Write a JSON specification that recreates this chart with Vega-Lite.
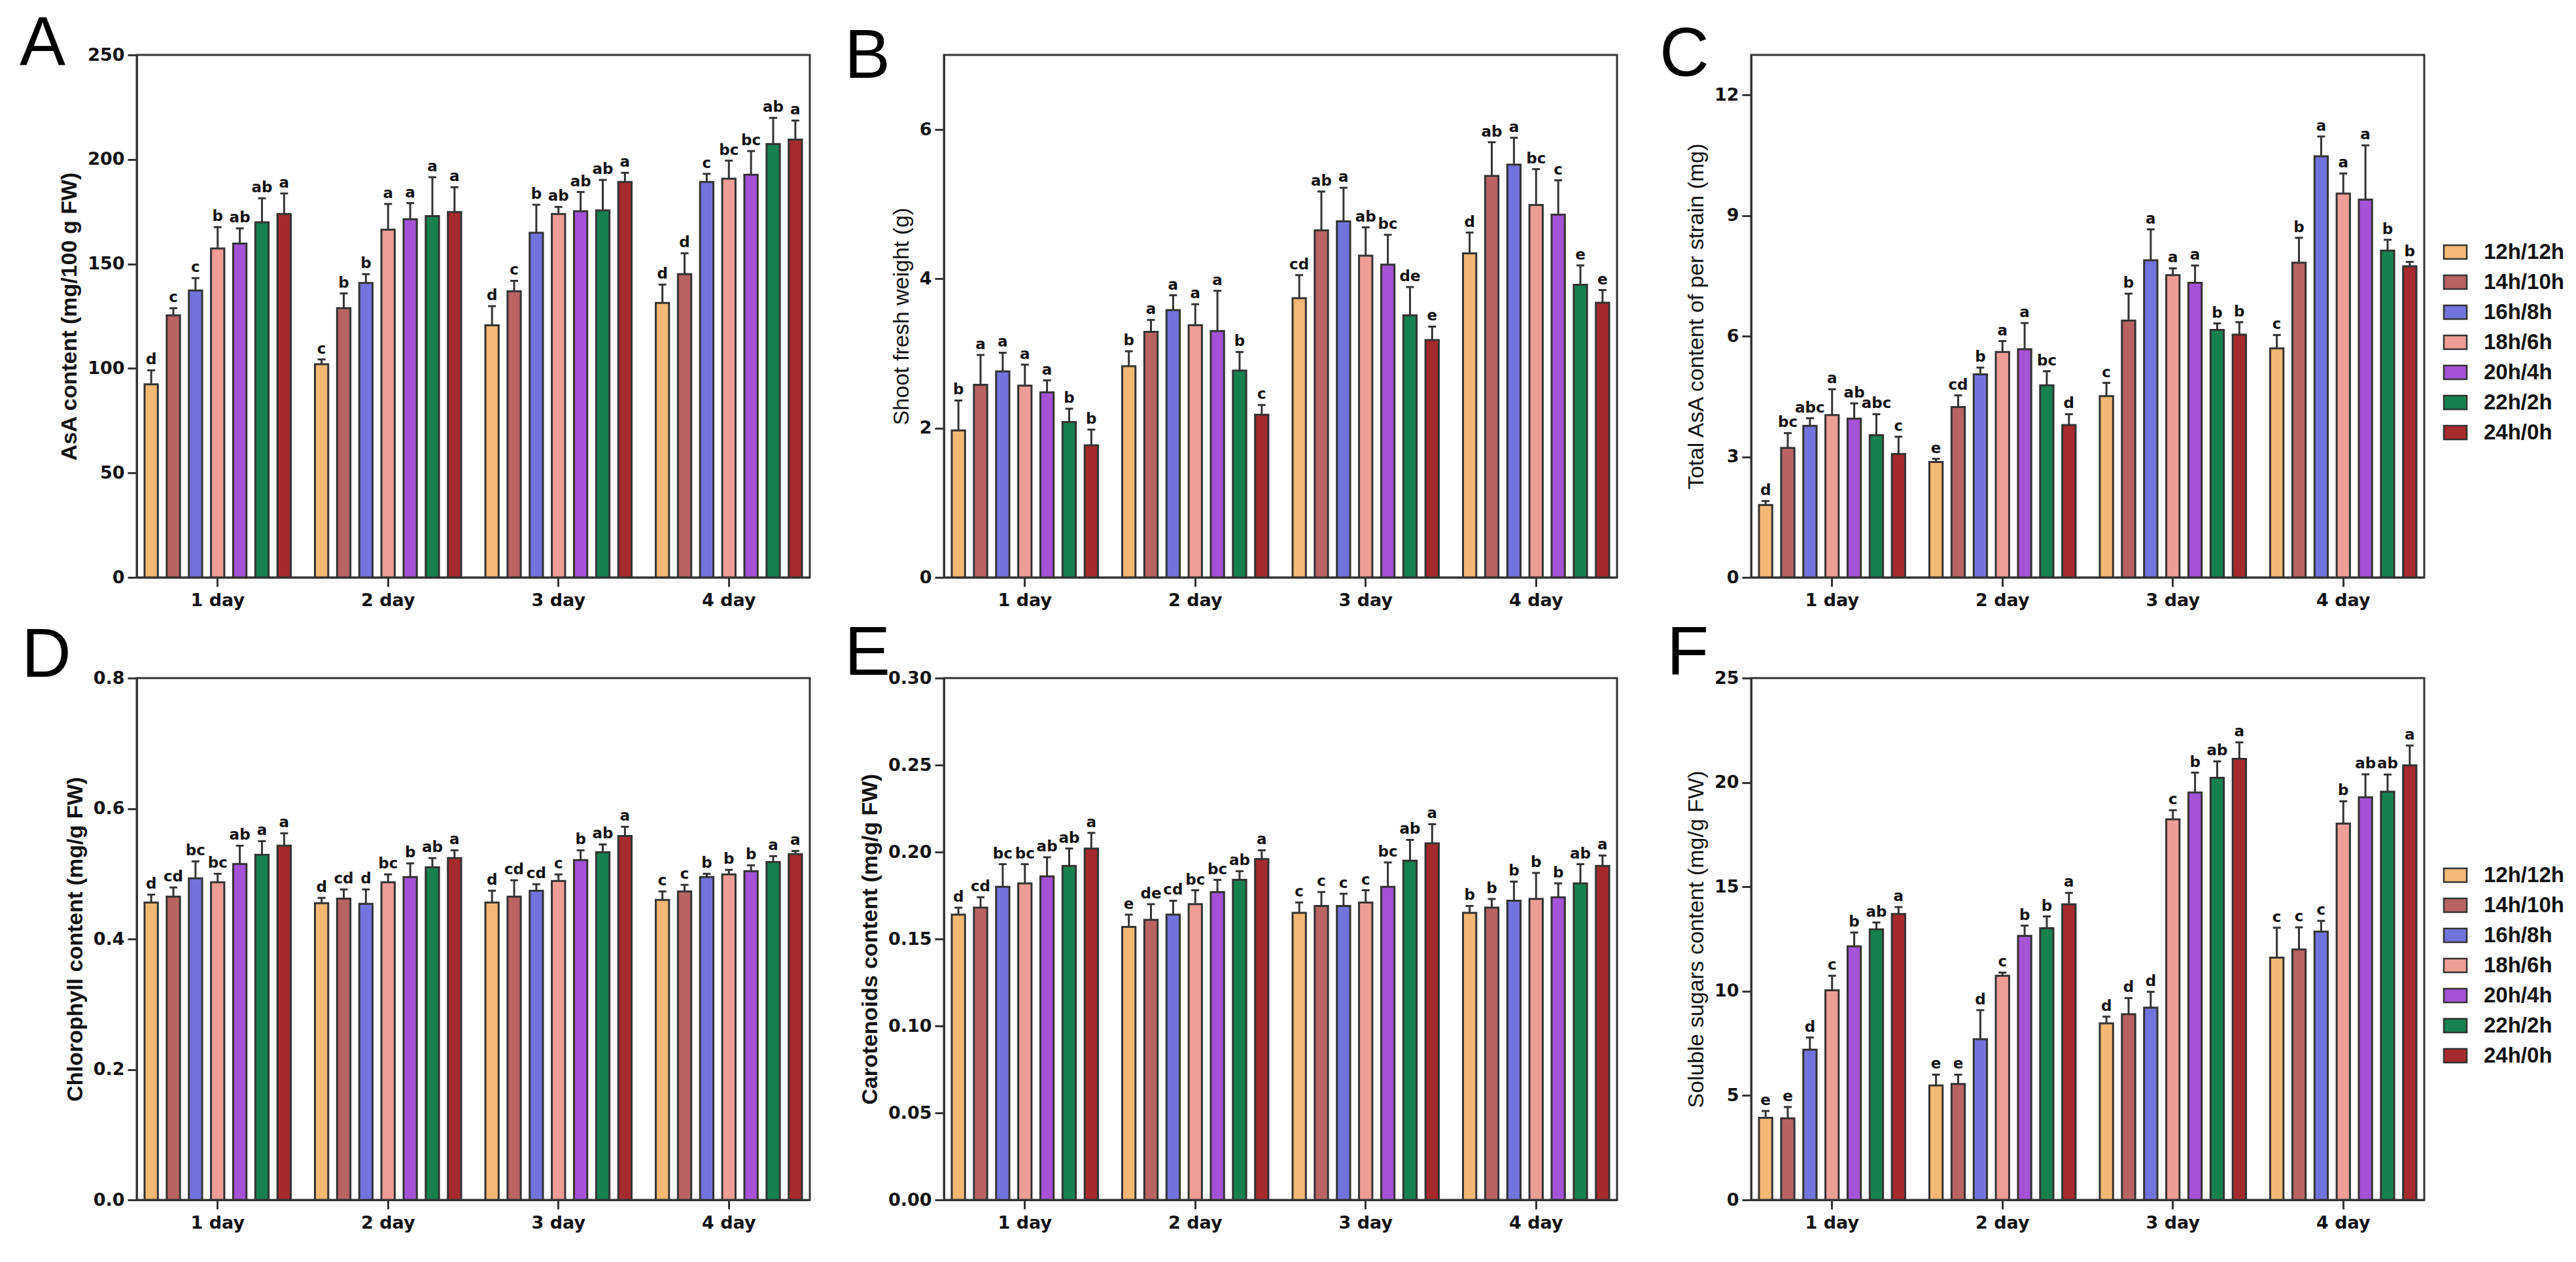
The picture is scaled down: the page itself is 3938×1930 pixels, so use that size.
{
"$schema":"https://vega.github.io/schema/vega-lite/v6.json",
"background":"white",
"padding":{"left":28,"top":13,"right":10,"bottom":10},
"config":{
 "view":{"stroke":"#333333","strokeWidth":3},
 "axis":{"domainColor":"#333333","domainWidth":3,"tickColor":"#333333","tickWidth":3,"tickSize":14,"labelFont":"DejaVu Sans","labelFontWeight":"bold","labelFontSize":27,"labelColor":"#111111","labelPadding":5,"titleFont":"Liberation Sans","titleFontSize":34,"titleColor":"#111111","titleFontWeight":"normal","grid":false},
 "axisX":{"labelAngle":0,"labelPadding":8},
 "axisY":{"titlePadding":10},
 "title":{"anchor":"start","frame":"group","offset":0,"baseline":"alphabetic","font":"Liberation Sans","fontSize":105,"fontWeight":"normal","color":"#000000"}
},
"datasets":{
"A":[
{"d":"1 day","p":"12h/12h","v":92.4,"u":99.1,"l":"d"},{"d":"1 day","p":"14h/10h","v":125.4,"u":128.8,"l":"c"},{"d":"1 day","p":"16h/8h","v":137.3,"u":143.2,"l":"c"},{"d":"1 day","p":"18h/6h","v":157.4,"u":167.6,"l":"b"},{"d":"1 day","p":"20h/4h","v":159.7,"u":167.0,"l":"ab"},{"d":"1 day","p":"22h/2h","v":169.9,"u":181.4,"l":"ab"},{"d":"1 day","p":"24h/0h","v":173.9,"u":183.7,"l":"a"},
{"d":"2 day","p":"12h/12h","v":102.0,"u":104.3,"l":"c"},{"d":"2 day","p":"14h/10h","v":128.8,"u":135.9,"l":"b"},{"d":"2 day","p":"16h/8h","v":140.9,"u":145.1,"l":"b"},{"d":"2 day","p":"18h/6h","v":166.4,"u":178.7,"l":"a"},{"d":"2 day","p":"20h/4h","v":171.4,"u":179.1,"l":"a"},{"d":"2 day","p":"22h/2h","v":172.9,"u":191.5,"l":"a"},{"d":"2 day","p":"24h/0h","v":174.8,"u":186.7,"l":"a"},
{"d":"3 day","p":"12h/12h","v":120.6,"u":129.8,"l":"d"},{"d":"3 day","p":"14h/10h","v":136.9,"u":141.9,"l":"c"},{"d":"3 day","p":"16h/8h","v":164.9,"u":178.3,"l":"b"},{"d":"3 day","p":"18h/6h","v":173.9,"u":177.3,"l":"ab"},{"d":"3 day","p":"20h/4h","v":175.2,"u":184.4,"l":"ab"},{"d":"3 day","p":"22h/2h","v":175.6,"u":190.2,"l":"ab"},{"d":"3 day","p":"24h/0h","v":189.2,"u":193.6,"l":"a"},
{"d":"4 day","p":"12h/12h","v":131.3,"u":140.1,"l":"d"},{"d":"4 day","p":"14h/10h","v":145.1,"u":155.1,"l":"d"},{"d":"4 day","p":"16h/8h","v":189.2,"u":193.1,"l":"c"},{"d":"4 day","p":"18h/6h","v":190.8,"u":199.4,"l":"bc"},{"d":"4 day","p":"20h/4h","v":192.7,"u":204.0,"l":"bc"},{"d":"4 day","p":"22h/2h","v":207.4,"u":219.9,"l":"ab"},{"d":"4 day","p":"24h/0h","v":209.5,"u":218.6,"l":"a"}
],
"B":[
{"d":"1 day","p":"12h/12h","v":1.97,"u":2.37,"l":"b"},{"d":"1 day","p":"14h/10h","v":2.58,"u":2.98,"l":"a"},{"d":"1 day","p":"16h/8h","v":2.76,"u":3.01,"l":"a"},{"d":"1 day","p":"18h/6h","v":2.57,"u":2.85,"l":"a"},{"d":"1 day","p":"20h/4h","v":2.48,"u":2.64,"l":"a"},{"d":"1 day","p":"22h/2h","v":2.08,"u":2.26,"l":"b"},{"d":"1 day","p":"24h/0h","v":1.77,"u":1.98,"l":"b"},
{"d":"2 day","p":"12h/12h","v":2.83,"u":3.03,"l":"b"},{"d":"2 day","p":"14h/10h","v":3.29,"u":3.45,"l":"a"},{"d":"2 day","p":"16h/8h","v":3.58,"u":3.78,"l":"a"},{"d":"2 day","p":"18h/6h","v":3.38,"u":3.66,"l":"a"},{"d":"2 day","p":"20h/4h","v":3.30,"u":3.84,"l":"a"},{"d":"2 day","p":"22h/2h","v":2.77,"u":3.02,"l":"b"},{"d":"2 day","p":"24h/0h","v":2.18,"u":2.31,"l":"c"},
{"d":"3 day","p":"12h/12h","v":3.74,"u":4.05,"l":"cd"},{"d":"3 day","p":"14h/10h","v":4.65,"u":5.17,"l":"ab"},{"d":"3 day","p":"16h/8h","v":4.77,"u":5.22,"l":"a"},{"d":"3 day","p":"18h/6h","v":4.31,"u":4.69,"l":"ab"},{"d":"3 day","p":"20h/4h","v":4.19,"u":4.59,"l":"bc"},{"d":"3 day","p":"22h/2h","v":3.51,"u":3.89,"l":"de"},{"d":"3 day","p":"24h/0h","v":3.18,"u":3.36,"l":"e"},
{"d":"4 day","p":"12h/12h","v":4.34,"u":4.62,"l":"d"},{"d":"4 day","p":"14h/10h","v":5.38,"u":5.83,"l":"ab"},{"d":"4 day","p":"16h/8h","v":5.53,"u":5.89,"l":"a"},{"d":"4 day","p":"18h/6h","v":4.99,"u":5.47,"l":"bc"},{"d":"4 day","p":"20h/4h","v":4.86,"u":5.32,"l":"c"},{"d":"4 day","p":"22h/2h","v":3.92,"u":4.18,"l":"e"},{"d":"4 day","p":"24h/0h","v":3.68,"u":3.85,"l":"e"}
],
"C":[
{"d":"1 day","p":"12h/12h","v":1.80,"u":1.90,"l":"d"},{"d":"1 day","p":"14h/10h","v":3.22,"u":3.59,"l":"bc"},{"d":"1 day","p":"16h/8h","v":3.77,"u":3.96,"l":"abc"},{"d":"1 day","p":"18h/6h","v":4.04,"u":4.68,"l":"a"},{"d":"1 day","p":"20h/4h","v":3.95,"u":4.33,"l":"ab"},{"d":"1 day","p":"22h/2h","v":3.54,"u":4.06,"l":"abc"},{"d":"1 day","p":"24h/0h","v":3.07,"u":3.50,"l":"c"},
{"d":"2 day","p":"12h/12h","v":2.87,"u":2.95,"l":"e"},{"d":"2 day","p":"14h/10h","v":4.24,"u":4.53,"l":"cd"},{"d":"2 day","p":"16h/8h","v":5.05,"u":5.22,"l":"b"},{"d":"2 day","p":"18h/6h","v":5.61,"u":5.88,"l":"a"},{"d":"2 day","p":"20h/4h","v":5.68,"u":6.33,"l":"a"},{"d":"2 day","p":"22h/2h","v":4.78,"u":5.13,"l":"bc"},{"d":"2 day","p":"24h/0h","v":3.79,"u":4.06,"l":"d"},
{"d":"3 day","p":"12h/12h","v":4.51,"u":4.84,"l":"c"},{"d":"3 day","p":"14h/10h","v":6.39,"u":7.06,"l":"b"},{"d":"3 day","p":"16h/8h","v":7.89,"u":8.66,"l":"a"},{"d":"3 day","p":"18h/6h","v":7.52,"u":7.69,"l":"a"},{"d":"3 day","p":"20h/4h","v":7.33,"u":7.76,"l":"a"},{"d":"3 day","p":"22h/2h","v":6.16,"u":6.32,"l":"b"},{"d":"3 day","p":"24h/0h","v":6.04,"u":6.35,"l":"b"},
{"d":"4 day","p":"12h/12h","v":5.70,"u":6.03,"l":"c"},{"d":"4 day","p":"14h/10h","v":7.83,"u":8.45,"l":"b"},{"d":"4 day","p":"16h/8h","v":10.48,"u":10.97,"l":"a"},{"d":"4 day","p":"18h/6h","v":9.55,"u":10.05,"l":"a"},{"d":"4 day","p":"20h/4h","v":9.40,"u":10.75,"l":"a"},{"d":"4 day","p":"22h/2h","v":8.13,"u":8.40,"l":"b"},{"d":"4 day","p":"24h/0h","v":7.74,"u":7.85,"l":"b"}
],
"D":[
{"d":"1 day","p":"12h/12h","v":0.456,"u":0.468,"l":"d"},{"d":"1 day","p":"14h/10h","v":0.465,"u":0.479,"l":"cd"},{"d":"1 day","p":"16h/8h","v":0.493,"u":0.519,"l":"bc"},{"d":"1 day","p":"18h/6h","v":0.487,"u":0.500,"l":"bc"},{"d":"1 day","p":"20h/4h","v":0.515,"u":0.543,"l":"ab"},{"d":"1 day","p":"22h/2h","v":0.529,"u":0.550,"l":"a"},{"d":"1 day","p":"24h/0h","v":0.543,"u":0.562,"l":"a"},
{"d":"2 day","p":"12h/12h","v":0.455,"u":0.463,"l":"d"},{"d":"2 day","p":"14h/10h","v":0.462,"u":0.476,"l":"cd"},{"d":"2 day","p":"16h/8h","v":0.454,"u":0.476,"l":"d"},{"d":"2 day","p":"18h/6h","v":0.487,"u":0.499,"l":"bc"},{"d":"2 day","p":"20h/4h","v":0.495,"u":0.516,"l":"b"},{"d":"2 day","p":"22h/2h","v":0.510,"u":0.524,"l":"ab"},{"d":"2 day","p":"24h/0h","v":0.524,"u":0.536,"l":"a"},
{"d":"3 day","p":"12h/12h","v":0.456,"u":0.474,"l":"d"},{"d":"3 day","p":"14h/10h","v":0.465,"u":0.490,"l":"cd"},{"d":"3 day","p":"16h/8h","v":0.474,"u":0.484,"l":"cd"},{"d":"3 day","p":"18h/6h","v":0.489,"u":0.499,"l":"c"},{"d":"3 day","p":"20h/4h","v":0.521,"u":0.536,"l":"b"},{"d":"3 day","p":"22h/2h","v":0.533,"u":0.545,"l":"ab"},{"d":"3 day","p":"24h/0h","v":0.558,"u":0.572,"l":"a"},
{"d":"4 day","p":"12h/12h","v":0.460,"u":0.473,"l":"c"},{"d":"4 day","p":"14h/10h","v":0.473,"u":0.483,"l":"c"},{"d":"4 day","p":"16h/8h","v":0.495,"u":0.500,"l":"b"},{"d":"4 day","p":"18h/6h","v":0.499,"u":0.506,"l":"b"},{"d":"4 day","p":"20h/4h","v":0.504,"u":0.513,"l":"b"},{"d":"4 day","p":"22h/2h","v":0.518,"u":0.527,"l":"a"},{"d":"4 day","p":"24h/0h","v":0.530,"u":0.535,"l":"a"}
],
"E":[
{"d":"1 day","p":"12h/12h","v":0.164,"u":0.168,"l":"d"},{"d":"1 day","p":"14h/10h","v":0.168,"u":0.174,"l":"cd"},{"d":"1 day","p":"16h/8h","v":0.180,"u":0.193,"l":"bc"},{"d":"1 day","p":"18h/6h","v":0.182,"u":0.193,"l":"bc"},{"d":"1 day","p":"20h/4h","v":0.186,"u":0.197,"l":"ab"},{"d":"1 day","p":"22h/2h","v":0.192,"u":0.202,"l":"ab"},{"d":"1 day","p":"24h/0h","v":0.202,"u":0.211,"l":"a"},
{"d":"2 day","p":"12h/12h","v":0.157,"u":0.164,"l":"e"},{"d":"2 day","p":"14h/10h","v":0.161,"u":0.170,"l":"de"},{"d":"2 day","p":"16h/8h","v":0.164,"u":0.172,"l":"cd"},{"d":"2 day","p":"18h/6h","v":0.170,"u":0.178,"l":"bc"},{"d":"2 day","p":"20h/4h","v":0.177,"u":0.184,"l":"bc"},{"d":"2 day","p":"22h/2h","v":0.184,"u":0.189,"l":"ab"},{"d":"2 day","p":"24h/0h","v":0.196,"u":0.201,"l":"a"},
{"d":"3 day","p":"12h/12h","v":0.165,"u":0.171,"l":"c"},{"d":"3 day","p":"14h/10h","v":0.169,"u":0.177,"l":"c"},{"d":"3 day","p":"16h/8h","v":0.169,"u":0.176,"l":"c"},{"d":"3 day","p":"18h/6h","v":0.171,"u":0.178,"l":"c"},{"d":"3 day","p":"20h/4h","v":0.180,"u":0.194,"l":"bc"},{"d":"3 day","p":"22h/2h","v":0.195,"u":0.207,"l":"ab"},{"d":"3 day","p":"24h/0h","v":0.205,"u":0.216,"l":"a"},
{"d":"4 day","p":"12h/12h","v":0.165,"u":0.169,"l":"b"},{"d":"4 day","p":"14h/10h","v":0.168,"u":0.173,"l":"b"},{"d":"4 day","p":"16h/8h","v":0.172,"u":0.183,"l":"b"},{"d":"4 day","p":"18h/6h","v":0.173,"u":0.188,"l":"b"},{"d":"4 day","p":"20h/4h","v":0.174,"u":0.182,"l":"b"},{"d":"4 day","p":"22h/2h","v":0.182,"u":0.193,"l":"ab"},{"d":"4 day","p":"24h/0h","v":0.192,"u":0.198,"l":"a"}
],
"F":[
{"d":"1 day","p":"12h/12h","v":3.93,"u":4.26,"l":"e"},{"d":"1 day","p":"14h/10h","v":3.91,"u":4.45,"l":"e"},{"d":"1 day","p":"16h/8h","v":7.20,"u":7.78,"l":"d"},{"d":"1 day","p":"18h/6h","v":10.04,"u":10.74,"l":"c"},{"d":"1 day","p":"20h/4h","v":12.15,"u":12.81,"l":"b"},{"d":"1 day","p":"22h/2h","v":12.96,"u":13.29,"l":"ab"},{"d":"1 day","p":"24h/0h","v":13.70,"u":14.03,"l":"a"},
{"d":"2 day","p":"12h/12h","v":5.48,"u":6.00,"l":"e"},{"d":"2 day","p":"14h/10h","v":5.55,"u":6.00,"l":"e"},{"d":"2 day","p":"16h/8h","v":7.70,"u":9.09,"l":"d"},{"d":"2 day","p":"18h/6h","v":10.74,"u":10.89,"l":"c"},{"d":"2 day","p":"20h/4h","v":12.65,"u":13.14,"l":"b"},{"d":"2 day","p":"22h/2h","v":13.02,"u":13.58,"l":"b"},{"d":"2 day","p":"24h/0h","v":14.16,"u":14.71,"l":"a"},
{"d":"3 day","p":"12h/12h","v":8.46,"u":8.78,"l":"d"},{"d":"3 day","p":"14h/10h","v":8.90,"u":9.67,"l":"d"},{"d":"3 day","p":"16h/8h","v":9.21,"u":9.97,"l":"d"},{"d":"3 day","p":"18h/6h","v":18.23,"u":18.67,"l":"c"},{"d":"3 day","p":"20h/4h","v":19.52,"u":20.47,"l":"b"},{"d":"3 day","p":"22h/2h","v":20.22,"u":21.01,"l":"ab"},{"d":"3 day","p":"24h/0h","v":21.13,"u":21.92,"l":"a"},
{"d":"4 day","p":"12h/12h","v":11.61,"u":13.04,"l":"c"},{"d":"4 day","p":"14h/10h","v":12.00,"u":13.06,"l":"c"},{"d":"4 day","p":"16h/8h","v":12.85,"u":13.37,"l":"c"},{"d":"4 day","p":"18h/6h","v":18.03,"u":19.10,"l":"b"},{"d":"4 day","p":"20h/4h","v":19.29,"u":20.39,"l":"ab"},{"d":"4 day","p":"22h/2h","v":19.56,"u":20.38,"l":"ab"},{"d":"4 day","p":"24h/0h","v":20.82,"u":21.77,"l":"a"}
]
},
"columns":3,
"spacing":{"row":154,"column":205},
"bounds":"flush",
"resolve":{"legend":{"color":"independent"}},
"concat":[
 {"width":1029,"height":799,"title":{"text":"A","dx":-179,"dy":55},"data":{"name":"A"},
  "encoding":{"x":{"field":"d","type":"nominal","title":null,"scale":{"paddingInner":0.142,"paddingOuter":0.046}},"xOffset":{"field":"p","type":"nominal","scale":{"paddingInner":0.4,"paddingOuter":0}}},
  "layer":[
   {"mark":{"type":"bar","stroke":"#333333","strokeWidth":3},"encoding":{"y":{"field":"v","type":"quantitative","scale":{"domain":[0,250],"nice":false},"title":"AsA content (mg/100 g FW)","axis":{"values":[0,50,100,150,200,250],"format":"d","titleFontWeight":"bold"}},"color":{"field":"p","type":"nominal","scale":{"domain":["12h/12h","14h/10h","16h/8h","18h/6h","20h/4h","22h/2h","24h/0h"],"range":["#F3B874","#B96363","#7373DD","#EE9E96","#A552D6","#17804F","#A52A2D"]},"legend":null}}},
   {"mark":{"type":"rule","color":"#333333","strokeWidth":3},"encoding":{"y":{"field":"v","type":"quantitative","scale":{"domain":[0,250],"nice":false}},"y2":{"field":"u"}}},
   {"mark":{"type":"tick","color":"#333333","thickness":3,"size":12,"opacity":1},"encoding":{"y":{"field":"u","type":"quantitative","scale":{"domain":[0,250],"nice":false}}}},
   {"mark":{"type":"text","font":"DejaVu Sans","fontWeight":"bold","fontSize":23,"baseline":"alphabetic","dy":-9,"color":"#111111"},"encoding":{"y":{"field":"u","type":"quantitative","scale":{"domain":[0,250],"nice":false}},"text":{"field":"l"}}}
  ]},
 {"width":1029,"height":799,"title":{"text":"B","dx":-152,"dy":61},"data":{"name":"B"},
  "encoding":{"x":{"field":"d","type":"nominal","title":null,"scale":{"paddingInner":0.142,"paddingOuter":0.046}},"xOffset":{"field":"p","type":"nominal","scale":{"paddingInner":0.4,"paddingOuter":0}}},
  "layer":[
   {"mark":{"type":"bar","stroke":"#333333","strokeWidth":3},"encoding":{"y":{"field":"v","type":"quantitative","scale":{"domain":[0,7],"nice":false},"title":"Shoot fresh weight (g)","axis":{"values":[0,2,4,6],"format":"d"}},"color":{"field":"p","type":"nominal","scale":{"domain":["12h/12h","14h/10h","16h/8h","18h/6h","20h/4h","22h/2h","24h/0h"],"range":["#F3B874","#B96363","#7373DD","#EE9E96","#A552D6","#17804F","#A52A2D"]},"legend":null}}},
   {"mark":{"type":"rule","color":"#333333","strokeWidth":3},"encoding":{"y":{"field":"v","type":"quantitative","scale":{"domain":[0,7],"nice":false}},"y2":{"field":"u"}}},
   {"mark":{"type":"tick","color":"#333333","thickness":3,"size":12,"opacity":1},"encoding":{"y":{"field":"u","type":"quantitative","scale":{"domain":[0,7],"nice":false}}}},
   {"mark":{"type":"text","font":"DejaVu Sans","fontWeight":"bold","fontSize":23,"baseline":"alphabetic","dy":-9,"color":"#111111"},"encoding":{"y":{"field":"u","type":"quantitative","scale":{"domain":[0,7],"nice":false}},"text":{"field":"l"}}}
  ]},
 {"width":1029,"height":799,"title":{"text":"C","dx":-140,"dy":58},"data":{"name":"C"},
  "encoding":{"x":{"field":"d","type":"nominal","title":null,"scale":{"paddingInner":0.142,"paddingOuter":0.046}},"xOffset":{"field":"p","type":"nominal","scale":{"paddingInner":0.4,"paddingOuter":0}}},
  "layer":[
   {"mark":{"type":"bar","stroke":"#333333","strokeWidth":3},"encoding":{"y":{"field":"v","type":"quantitative","scale":{"domain":[0,13],"nice":false},"title":"Total AsA content of per strain (mg)","axis":{"values":[0,3,6,9,12],"format":"d"}},"color":{"field":"p","type":"nominal","scale":{"domain":["12h/12h","14h/10h","16h/8h","18h/6h","20h/4h","22h/2h","24h/0h"],"range":["#F3B874","#B96363","#7373DD","#EE9E96","#A552D6","#17804F","#A52A2D"]},"legend":{"orient":"none","legendX":1060,"legendY":285,"title":null,"padding":0,"symbolType":"M-1.67,-1H1.67V1H-1.67Z","symbolSize":441,"symbolStrokeColor":"#333333","symbolStrokeWidth":2.5,"symbolOpacity":1,"labelFont":"Liberation Sans","labelFontSize":33,"labelFontWeight":"bold","labelColor":"#111111","labelOffset":27,"rowPadding":12}}}},
   {"mark":{"type":"rule","color":"#333333","strokeWidth":3},"encoding":{"y":{"field":"v","type":"quantitative","scale":{"domain":[0,13],"nice":false}},"y2":{"field":"u"}}},
   {"mark":{"type":"tick","color":"#333333","thickness":3,"size":12,"opacity":1},"encoding":{"y":{"field":"u","type":"quantitative","scale":{"domain":[0,13],"nice":false}}}},
   {"mark":{"type":"text","font":"DejaVu Sans","fontWeight":"bold","fontSize":23,"baseline":"alphabetic","dy":-9,"color":"#111111"},"encoding":{"y":{"field":"u","type":"quantitative","scale":{"domain":[0,13],"nice":false}},"text":{"field":"l"}}}
  ]},
 {"width":1029,"height":798,"title":{"text":"D","dx":-176,"dy":38},"data":{"name":"D"},
  "encoding":{"x":{"field":"d","type":"nominal","title":null,"scale":{"paddingInner":0.142,"paddingOuter":0.046}},"xOffset":{"field":"p","type":"nominal","scale":{"paddingInner":0.4,"paddingOuter":0}}},
  "layer":[
   {"mark":{"type":"bar","stroke":"#333333","strokeWidth":3},"encoding":{"y":{"field":"v","type":"quantitative","scale":{"domain":[0,0.8],"nice":false},"title":"Chlorophyll content (mg/g FW)","axis":{"values":[0,0.2,0.4,0.6,0.8],"format":".1f","titleFontWeight":"bold"}},"color":{"field":"p","type":"nominal","scale":{"domain":["12h/12h","14h/10h","16h/8h","18h/6h","20h/4h","22h/2h","24h/0h"],"range":["#F3B874","#B96363","#7373DD","#EE9E96","#A552D6","#17804F","#A52A2D"]},"legend":null}}},
   {"mark":{"type":"rule","color":"#333333","strokeWidth":3},"encoding":{"y":{"field":"v","type":"quantitative","scale":{"domain":[0,0.8],"nice":false}},"y2":{"field":"u"}}},
   {"mark":{"type":"tick","color":"#333333","thickness":3,"size":12,"opacity":1},"encoding":{"y":{"field":"u","type":"quantitative","scale":{"domain":[0,0.8],"nice":false}}}},
   {"mark":{"type":"text","font":"DejaVu Sans","fontWeight":"bold","fontSize":23,"baseline":"alphabetic","dy":-9,"color":"#111111"},"encoding":{"y":{"field":"u","type":"quantitative","scale":{"domain":[0,0.8],"nice":false}},"text":{"field":"l"}}}
  ]},
 {"width":1029,"height":798,"title":{"text":"E","dx":-152,"dy":35},"data":{"name":"E"},
  "encoding":{"x":{"field":"d","type":"nominal","title":null,"scale":{"paddingInner":0.142,"paddingOuter":0.046}},"xOffset":{"field":"p","type":"nominal","scale":{"paddingInner":0.4,"paddingOuter":0}}},
  "layer":[
   {"mark":{"type":"bar","stroke":"#333333","strokeWidth":3},"encoding":{"y":{"field":"v","type":"quantitative","scale":{"domain":[0,0.3],"nice":false},"title":"Carotenoids content (mg/g FW)","axis":{"values":[0,0.05,0.1,0.15,0.2,0.25,0.3],"format":".2f","titleFontWeight":"bold"}},"color":{"field":"p","type":"nominal","scale":{"domain":["12h/12h","14h/10h","16h/8h","18h/6h","20h/4h","22h/2h","24h/0h"],"range":["#F3B874","#B96363","#7373DD","#EE9E96","#A552D6","#17804F","#A52A2D"]},"legend":null}}},
   {"mark":{"type":"rule","color":"#333333","strokeWidth":3},"encoding":{"y":{"field":"v","type":"quantitative","scale":{"domain":[0,0.3],"nice":false}},"y2":{"field":"u"}}},
   {"mark":{"type":"tick","color":"#333333","thickness":3,"size":12,"opacity":1},"encoding":{"y":{"field":"u","type":"quantitative","scale":{"domain":[0,0.3],"nice":false}}}},
   {"mark":{"type":"text","font":"DejaVu Sans","fontWeight":"bold","fontSize":23,"baseline":"alphabetic","dy":-9,"color":"#111111"},"encoding":{"y":{"field":"u","type":"quantitative","scale":{"domain":[0,0.3],"nice":false}},"text":{"field":"l"}}}
  ]},
 {"width":1029,"height":798,"title":{"text":"F","dx":-129,"dy":35},"data":{"name":"F"},
  "encoding":{"x":{"field":"d","type":"nominal","title":null,"scale":{"paddingInner":0.142,"paddingOuter":0.046}},"xOffset":{"field":"p","type":"nominal","scale":{"paddingInner":0.4,"paddingOuter":0}}},
  "layer":[
   {"mark":{"type":"bar","stroke":"#333333","strokeWidth":3},"encoding":{"y":{"field":"v","type":"quantitative","scale":{"domain":[0,25],"nice":false},"title":"Soluble sugars content (mg/g FW)","axis":{"values":[0,5,10,15,20,25],"format":"d"}},"color":{"field":"p","type":"nominal","scale":{"domain":["12h/12h","14h/10h","16h/8h","18h/6h","20h/4h","22h/2h","24h/0h"],"range":["#F3B874","#B96363","#7373DD","#EE9E96","#A552D6","#17804F","#A52A2D"]},"legend":{"orient":"none","legendX":1060,"legendY":285,"title":null,"padding":0,"symbolType":"M-1.67,-1H1.67V1H-1.67Z","symbolSize":441,"symbolStrokeColor":"#333333","symbolStrokeWidth":2.5,"symbolOpacity":1,"labelFont":"Liberation Sans","labelFontSize":33,"labelFontWeight":"bold","labelColor":"#111111","labelOffset":27,"rowPadding":12}}}},
   {"mark":{"type":"rule","color":"#333333","strokeWidth":3},"encoding":{"y":{"field":"v","type":"quantitative","scale":{"domain":[0,25],"nice":false}},"y2":{"field":"u"}}},
   {"mark":{"type":"tick","color":"#333333","thickness":3,"size":12,"opacity":1},"encoding":{"y":{"field":"u","type":"quantitative","scale":{"domain":[0,25],"nice":false}}}},
   {"mark":{"type":"text","font":"DejaVu Sans","fontWeight":"bold","fontSize":23,"baseline":"alphabetic","dy":-9,"color":"#111111"},"encoding":{"y":{"field":"u","type":"quantitative","scale":{"domain":[0,25],"nice":false}},"text":{"field":"l"}}}
  ]}
]
}
